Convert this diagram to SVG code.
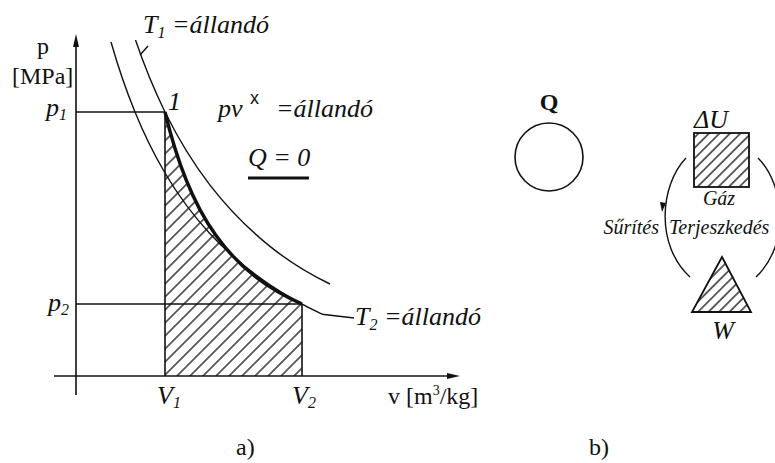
<svg xmlns="http://www.w3.org/2000/svg" width="775" height="463" viewBox="0 0 775 463">
<style>
.ln{stroke:#111;stroke-width:1.6;fill:none}
.thin{stroke:#111;stroke-width:1.4;fill:none}
.thick{stroke:#111;stroke-width:3.4;fill:none}
.it{font-family:"Liberation Serif","Times New Roman",serif;font-style:italic;font-size:26px;fill:#111}
.rm{font-family:"Liberation Serif","Times New Roman",serif;font-size:24px;fill:#111}
.sm{font-family:"Liberation Serif","Times New Roman",serif;font-style:italic;font-size:20px;fill:#111}
.ar{fill:#111}
</style>
<defs>
<pattern id="h1" patternUnits="userSpaceOnUse" width="9.2" height="9.2" patternTransform="rotate(-45)"><line x1="0" y1="4.6" x2="9.2" y2="4.6" stroke="#111" stroke-width="1.3"/></pattern>
<pattern id="h2" patternUnits="userSpaceOnUse" width="7.4" height="7.4" patternTransform="rotate(-45)"><line x1="0" y1="3.7" x2="7.4" y2="3.7" stroke="#111" stroke-width="1.3"/></pattern>
</defs>
<rect width="775" height="463" fill="#fff"/>

<g id="diagram-a">
<g id="hatch-area">
<path d="M165,376 L165,112 Q174.2,150.2 186,179.5 Q199,211.9 216,235.6 Q233.1,259.5 256,277.1 Q276.1,292.5 302,304 L302,376 Z" fill="url(#h1)" stroke="none"/>
</g>
<g id="axes">
<line class="ln" x1="76" y1="395" x2="76" y2="44"/>
<polygon class="ar" points="76,34 73,47 79,47"/>
<line class="ln" x1="54" y1="376" x2="450" y2="376"/>
<polygon class="ar" points="460,376 447,373 447,379"/>
<line class="ln" x1="76" y1="112" x2="165" y2="112"/>
<line class="ln" x1="76" y1="304" x2="302" y2="304"/>
<line class="ln" x1="165" y1="112" x2="165" y2="376"/>
<line class="ln" x1="302" y1="304" x2="302" y2="376"/>
</g>
<g id="curves">
<path id="isotherm-T1" class="thin" d="M135.5,40.1 Q148.9,79.3 165,112 Q185,152.6 210,185.1 Q236.4,219.3 270,246.4 Q297.1,268.2 330,284"/>
<path id="isotherm-T2" class="thin" d="M111,42 Q121.9,80.1 135,112 Q148.6,145.3 165,173 Q185,206.8 210,233.8 Q236.4,262.3 270,284.8 Q293.8,300.7 322,314.2"/>
<path id="adiabat" class="thick" d="M165,112 Q174.2,150.2 186,179.5 Q199,211.9 216,235.6 Q233.1,259.5 256,277.1 Q276.1,292.5 302,304"/>
<line class="thin" x1="140" y1="55" x2="148" y2="46"/>
<line class="thin" x1="322" y1="314.2" x2="354" y2="318"/>
</g>
<g id="labels-a">
<text class="rm" x="37" y="54" font-size="26">p</text>
<text class="rm" x="12" y="84">[MPa]</text>
<text class="it" x="143" y="33">T<tspan font-size="16" dy="5">1</tspan><tspan dy="-5"> =állandó</tspan></text>
<text class="it" x="46" y="116">p<tspan font-size="16" dy="4">1</tspan></text>
<text class="it" x="168" y="110" font-size="22">1</text>
<text class="it" x="218" y="117">pv</text>
<text x="250" y="104" font-family="Liberation Sans,sans-serif" font-size="18" fill="#111">x</text>
<text class="it" x="276" y="117">=állandó</text>
<text class="it" x="248" y="166">Q = 0</text>
<line x1="248" y1="178" x2="309" y2="178" stroke="#111" stroke-width="3.2"/>
<text class="it" x="48" y="311">p<tspan font-size="16" dy="4">2</tspan></text>
<text class="it" x="355" y="325">T<tspan font-size="16" dy="5">2</tspan><tspan dy="-5"> =állandó</tspan></text>
<text class="it" x="157" y="404">V<tspan font-size="16" dy="4">1</tspan></text>
<text class="it" x="292" y="404">V<tspan font-size="16" dy="4">2</tspan></text>
<text class="rm" x="388" y="404">v [m<tspan font-size="14" dy="-9">3</tspan><tspan dy="9">/kg]</tspan></text>
<text class="rm" x="236" y="455">a)</text>
</g>
</g>

<g id="diagram-b">
<g id="node-Q">
<text class="rm" x="549" y="110" font-size="25" font-weight="bold" text-anchor="middle">Q</text>
<circle cx="549" cy="157" r="34" class="ln"/>
</g>
<g id="node-dU">
<text class="it" x="694" y="128">ΔU</text>
<rect x="694" y="133" width="55" height="54" fill="url(#h2)" stroke="#111" stroke-width="1.8"/>
<text class="sm" x="719" y="205" font-size="18" text-anchor="middle">Gáz</text>
</g>
<g id="node-W">
<polygon points="722,257 692,312 751,312" fill="url(#h2)" stroke="#111" stroke-width="1.8"/>
<text class="it" x="723" y="339" text-anchor="middle">W</text>
</g>
<g id="connectors">
<path class="thin" d="M686,158 C660,185 655,245 690,277"/>
<polygon class="ar" points="660,202 666,203 662,212"/>
<path class="thin" d="M758,158 C785,185 790,245 756,277"/>
</g>
<g id="labels-b">
<text class="sm" x="659" y="234" text-anchor="end">Sűrítés</text>
<text class="sm" x="669" y="234">Terjeszkedés</text>
<text class="rm" x="589" y="455">b)</text>
</g>
</g>
</svg>
